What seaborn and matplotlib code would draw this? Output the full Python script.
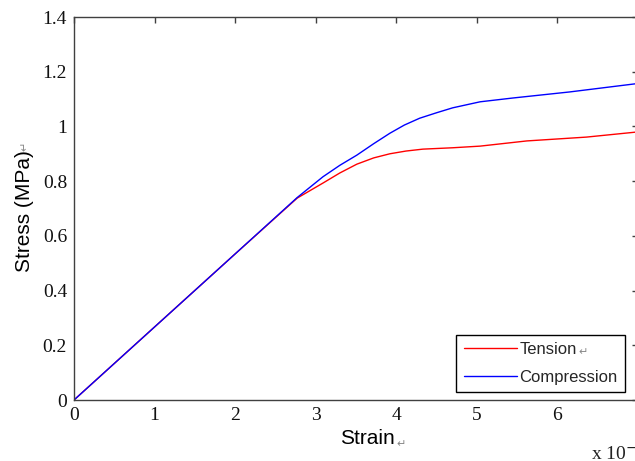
import matplotlib
matplotlib.use("Agg")
import matplotlib.pyplot as plt
import seaborn as sns
import pandas as pd

tension_strain = [0, 1, 2, 2.77, 3.09, 3.3, 3.51, 3.72, 3.92, 4.12, 4.33, 4.7, 5.04, 5.62, 6.36, 7.0]
tension_stress = [0, 0.267, 0.534, 0.738, 0.793, 0.83, 0.862, 0.885, 0.90, 0.91, 0.917, 0.922, 0.928, 0.947, 0.961, 0.98]
compression_strain = [0, 1, 2, 2.77, 3.09, 3.3, 3.51, 3.72, 3.92, 4.1, 4.29, 4.5, 4.7, 5.04, 5.45, 6.15, 7.0]
compression_stress = [0, 0.267, 0.534, 0.74, 0.816, 0.858, 0.895, 0.937, 0.975, 1.005, 1.03, 1.05, 1.068, 1.09, 1.104, 1.126, 1.157]
series_names = ["Tension", "Compression"]
xticks = [0, 1, 2, 3, 4, 5, 6]
yticks = [0, 0.2, 0.4, 0.6, 0.8, 1.0, 1.2, 1.4]
ytick_labels = ["0", "0.2", "0.4", "0.6", "0.8", "1", "1.2", "1.4"]

df = pd.concat([
    pd.DataFrame({"Strain": tension_strain, "Stress": tension_stress, "Series": series_names[0]}),
    pd.DataFrame({"Strain": compression_strain, "Stress": compression_stress, "Series": series_names[1]}),
])

sns.set_style("white")
plt.rcParams["font.family"] = ["Liberation Sans", "DejaVu Sans"]

W, H = 635, 461
fig = plt.figure(figsize=(W / 100, H / 100), dpi=100)
ax = fig.add_axes([74 / W, 61 / H, 564 / W, 383 / H])

sns.lineplot(data=df, x="Strain", y="Stress", hue="Series", sort=False,
             palette={series_names[0]: "#ff0000", series_names[1]: "#0000ff"},
             linewidth=1.0, ax=ax, legend=True)

ax.set_xlim(0, 7)
ax.set_ylim(0, 1.4)
ax.set_xticks(xticks)
ax.set_xticklabels([str(t) for t in xticks])
ax.set_yticks(yticks)
ax.set_yticklabels(ytick_labels)

for s in ax.spines.values():
    s.set_visible(True)
    s.set_color("#404040")
    s.set_linewidth(1.0)

ax.tick_params(axis="both", direction="in", length=4, width=1, color="#404040",
               top=True, right=True, labelsize=14, pad=5)
for lab in ax.get_xticklabels() + ax.get_yticklabels():
    lab.set_family(["Liberation Serif", "DejaVu Serif"])
    lab.set_color("#111111")

ax.set_xlabel("Strain", fontsize=15, color="black")
ax.set_ylabel("Stress (MPa)", fontsize=15, color="black")
ax.xaxis.set_label_coords((367 - 74) / 564, (400 - 429) / 383)
ax.yaxis.set_label_coords((34 - 74) / 564, (400 - 211) / 383)

# paragraph marks (small grey) as in the source document
mark_kw = dict(fontsize=8, color="#888888", family=["DejaVu Sans"])
fig.text(396 / W, 1 - 447 / H, "\u21b5", ha="left", va="baseline", **mark_kw)
fig.text(30 / W, 1 - 146 / H, "\u21b5", ha="right", va="center", rotation=90, **mark_kw)
fig.text(578 / W, 1 - 355 / H, "\u21b5", ha="left", va="baseline", **mark_kw)

fig.text(591 / W, 1 - 453 / H, "x 10$^{-3}$", fontsize=14, va="center", ha="left",
         family=["Liberation Serif", "DejaVu Serif"], color="#222222")

handles, labels = ax.get_legend_handles_labels()
leg = ax.legend(handles, labels, loc="lower left", bbox_to_anchor=((456 - 74) / 564, (400 - 392) / 383),
                borderaxespad=0, fontsize=12, handlelength=3.2, handletextpad=0.15,
                frameon=True, fancybox=False, borderpad=0.45, labelspacing=0.75)
leg.get_frame().set_edgecolor("black")
leg.get_frame().set_linewidth(1.0)
leg.get_frame().set_alpha(1.0)

fig.savefig("out.png", dpi=100)
